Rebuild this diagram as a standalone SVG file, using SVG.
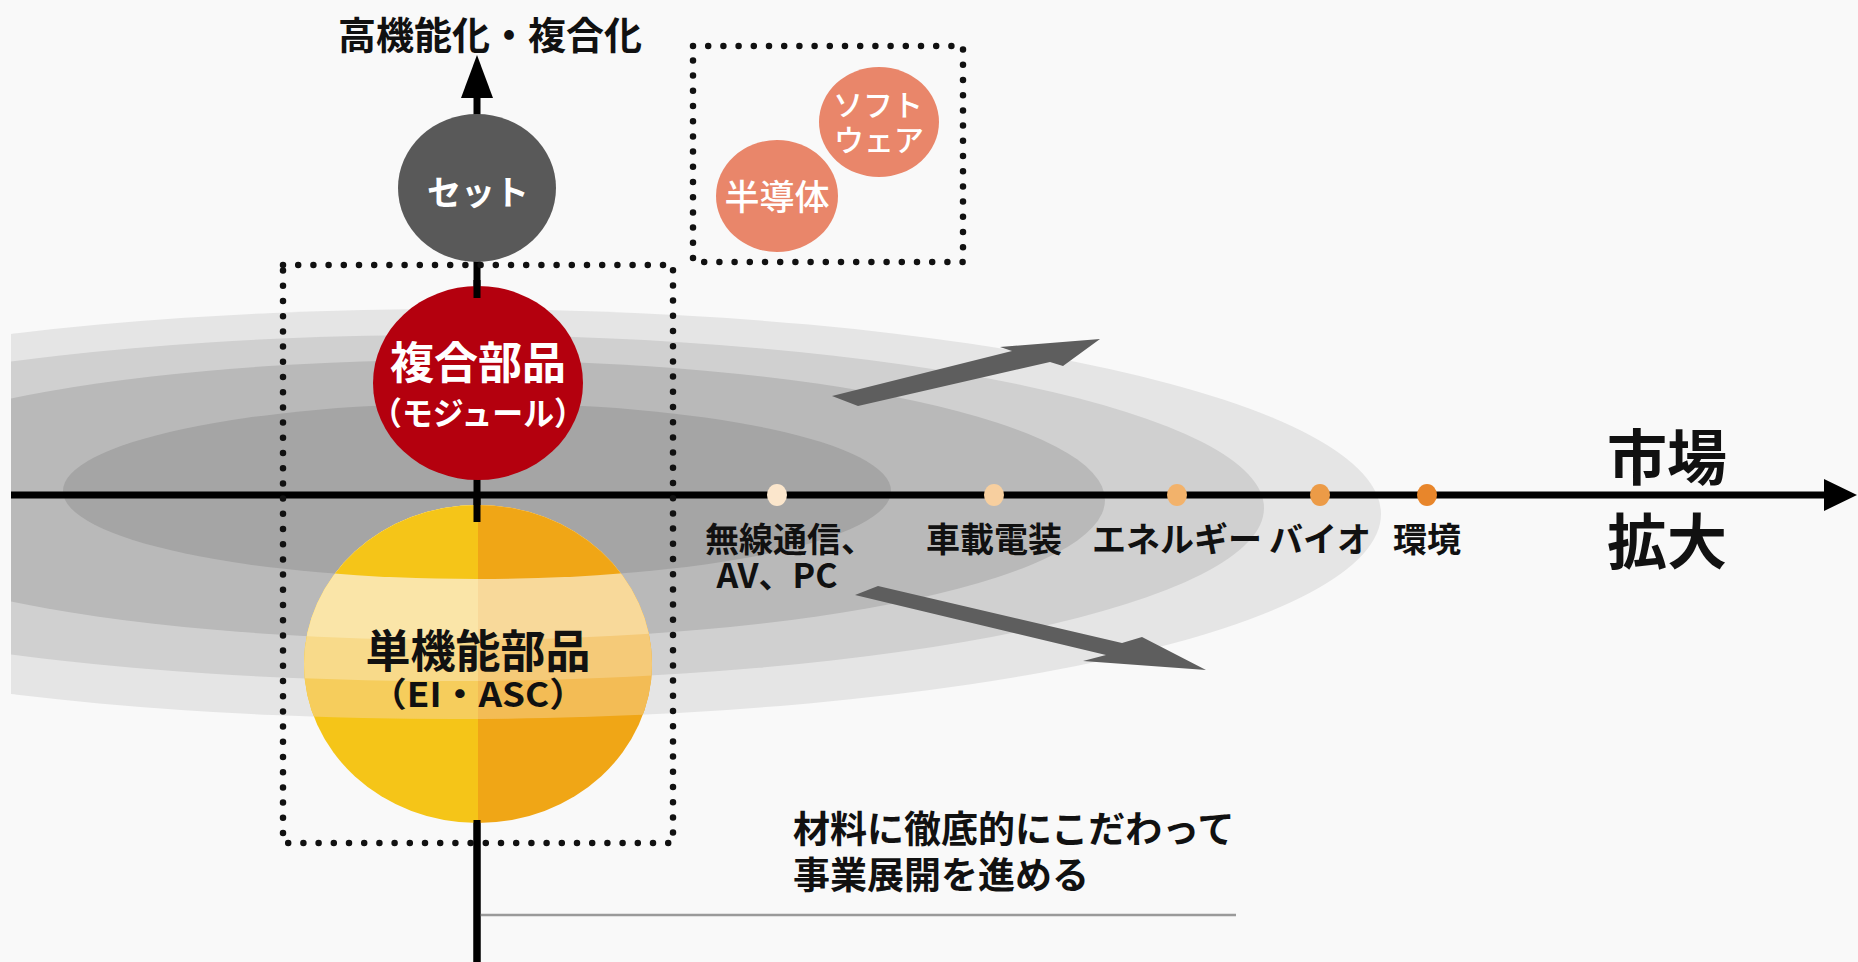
<svg xmlns="http://www.w3.org/2000/svg" width="1858" height="962" viewBox="0 0 1858 962">
<style>
.t{font-family:"Noto Sans CJK JP","Noto Sans",sans-serif;font-weight:700;dominant-baseline:central;text-anchor:middle}
.w{fill:#ffffff}
.k{fill:#111111}
.m{font-weight:500}
.dot{fill:none;stroke:#111;stroke-width:6.5;stroke-linecap:round;stroke-dasharray:0 15.2}
.ax{stroke:#000;stroke-width:7;fill:none}
.garr{fill:#5e5e5e}
</style>
<defs>
<clipPath id="leftcut"><rect x="11" y="0" width="1847" height="962"/></clipPath>
<clipPath id="ycl"><ellipse cx="478" cy="664" rx="174" ry="159"/></clipPath>
<linearGradient id="gBase" gradientUnits="userSpaceOnUse" x1="0" y1="0" x2="1858" y2="0"><stop offset="0.2573" stop-color="#f5c518"/><stop offset="0.2573" stop-color="#f0a616"/></linearGradient>
<linearGradient id="gB1" gradientUnits="userSpaceOnUse" x1="0" y1="0" x2="1858" y2="0"><stop offset="0.2573" stop-color="#fae5a8"/><stop offset="0.2573" stop-color="#f8d99a"/></linearGradient>
<linearGradient id="gB2" gradientUnits="userSpaceOnUse" x1="0" y1="0" x2="1858" y2="0"><stop offset="0.2573" stop-color="#f8da8a"/><stop offset="0.2573" stop-color="#f5ca78"/></linearGradient>
<linearGradient id="gB3" gradientUnits="userSpaceOnUse" x1="0" y1="0" x2="1858" y2="0"><stop offset="0.2573" stop-color="#f6cd5c"/><stop offset="0.2573" stop-color="#f3bc55"/></linearGradient>
</defs>
<rect x="0" y="0" width="1858" height="962" fill="#f9f9f9"/>
<g id="market-rings" clip-path="url(#leftcut)">
<ellipse cx="454" cy="514" rx="927" ry="205" fill="#e5e5e5"/>
<ellipse cx="446" cy="508" rx="818" ry="173" fill="#d0d0d0"/>
<ellipse cx="457" cy="500" rx="648" ry="140" fill="#b9b9b9"/>
<ellipse cx="477" cy="491" rx="414" ry="88" fill="#a5a5a5"/>
</g>
<g id="connectors">
<polygon class="garr" points="832,396 1012,351 1000,347 1100,339 1063,366 1050,362 858,406"/>
<polygon class="garr" points="855,595 878,586 1122,643 1142,637 1206,670 1083,661 1106,655"/>
<line class="ax" x1="11" y1="495" x2="1826" y2="495"/>
<polygon points="1857,495 1824,479 1824,511" fill="#000"/>
<line class="ax" x1="477" y1="96" x2="477" y2="962"/>
<polygon points="477,55 461,98 493,98" fill="#000"/>
<line x1="480" y1="915" x2="1236" y2="915" stroke="#9a9a9a" stroke-width="2.5"/>
</g>
<g id="box-core"><rect class="dot" x="283" y="265" width="390" height="578"/></g>
<g id="box-new"><rect class="dot" x="693" y="46" width="270" height="216"/></g>
<g id="node-set">
<ellipse cx="477" cy="188" rx="79" ry="74" fill="#595959"/>
<text class="t w" x="478" y="190" font-size="34">セット</text>
</g>
<g id="node-software">
<ellipse cx="879" cy="122" rx="60" ry="55" fill="#e9866a"/>
<text class="t w m" x="878" y="103" font-size="30">ソフト</text>
<text class="t w m" x="879" y="138" font-size="30">ウェア</text>
</g>
<g id="node-semiconductor">
<ellipse cx="777" cy="196" rx="61" ry="56" fill="#e9866a"/>
<text class="t w m" x="777" y="194" font-size="35">半導体</text>
</g>
<g id="node-module">
<ellipse cx="478" cy="383" rx="105" ry="97" fill="#b4000e"/>
<text class="t w" x="478" y="360" font-size="44">複合部品</text>
<text class="t w" x="478" y="411" font-size="32" textLength="214" lengthAdjust="spacingAndGlyphs">（モジュール）</text>
</g>
<g id="node-single">
<g clip-path="url(#ycl)">
<rect x="300" y="500" width="360" height="330" fill="url(#gBase)"/>
<ellipse cx="454" cy="514" rx="927" ry="205" fill="url(#gB3)"/>
<ellipse cx="446" cy="508" rx="818" ry="173" fill="url(#gB2)"/>
<ellipse cx="457" cy="500" rx="648" ry="140" fill="url(#gB1)"/>
<ellipse cx="477" cy="491" rx="414" ry="88" fill="url(#gBase)"/>
</g>
<text class="t k" x="478" y="648" font-size="45">単機能部品</text>
<text class="t k" x="478" y="692" font-size="34" textLength="216" lengthAdjust="spacingAndGlyphs">（EI・ASC）</text>
</g>
<g id="axis-stubs">
<line class="ax" x1="477" y1="280" x2="477" y2="298"/>
<line class="ax" x1="477" y1="495" x2="477" y2="522"/>
<line class="ax" x1="477" y1="820" x2="477" y2="962"/>
</g>
<g id="markets">
<ellipse cx="777" cy="495" rx="10" ry="11" fill="#fbe6cc"/>
<ellipse cx="994" cy="495" rx="10" ry="11" fill="#f7cf9f"/>
<ellipse cx="1177" cy="495" rx="10" ry="11" fill="#f2b26b"/>
<ellipse cx="1320" cy="495" rx="10" ry="11" fill="#ec9b47"/>
<ellipse cx="1427" cy="495" rx="10" ry="11" fill="#e8862b"/>
<text class="t k" x="705" y="537" font-size="34" style="text-anchor:start">無線通信、</text>
<text class="t k" x="777" y="573" font-size="34">AV、PC</text>
<text class="t k" x="994" y="537" font-size="34">車載電装</text>
<text class="t k" x="1177" y="537" font-size="34">エネルギー</text>
<text class="t k" x="1320" y="537" font-size="34">バイオ</text>
<text class="t k" x="1427" y="537" font-size="34">環境</text>
</g>
<g id="labels">
<text class="t k" x="490" y="32" font-size="38">高機能化・複合化</text>
<text class="t k" x="1667" y="453" font-size="60">市場</text>
<text class="t k" x="1667" y="537" font-size="60">拡大</text>
<text class="t k" x="793" y="827" font-size="37" style="text-anchor:start">材料に徹底的にこだわって</text>
<text class="t k" x="793" y="873" font-size="37" style="text-anchor:start">事業展開を進める</text>
</g>
</svg>
